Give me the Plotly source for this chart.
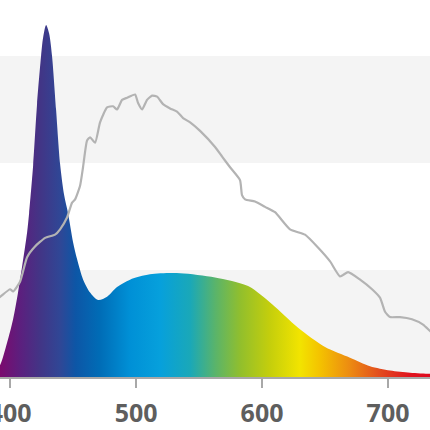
import plotly.graph_objects as go

# Spectrum (emission) data: wavelength (nm) vs relative intensity
spec_wl = [386, 392, 397.6, 402.4, 406.3, 409.5, 413.5, 415.1, 418.3, 421.4, 424.6, 426.2, 428.6,
           431.0, 433.3, 436.5, 439.7, 442.9, 446.0, 450.0, 453.2, 458.0, 463.5, 469.8, 477.0,
           484.9, 495.2, 511.0, 535.0, 562.7, 588.9, 608.0, 628.6, 650.0, 669.8, 685.7, 701.6,
           717.5, 733.3, 740]
spec_val = [0.02, 0.11, 0.32, 0.54, 0.79, 1.03, 1.35, 1.53, 1.98, 2.55, 3.00, 3.17, 3.29,
            3.21, 3.00, 2.50, 1.99, 1.70, 1.53, 1.26, 1.10, 0.91, 0.79, 0.72, 0.75,
            0.84, 0.91, 0.96, 0.97, 0.93, 0.85, 0.68, 0.46, 0.28, 0.18, 0.10, 0.06,
            0.04, 0.03, 0.03]

# Reference (gray) curve
ref_wl = [388, 392.1, 400.0, 402.4, 407.9, 413.5, 419.8, 427.8, 435.7, 439.7, 445.2, 449.2, 451.6,
          455.6, 457.9, 461.1, 463.5, 467.5, 471.4, 477.0, 481.7, 484.9, 488.9, 492.9, 499.2,
          501.6, 504.8, 508.7, 512.7, 516.7, 521.4, 527.0, 532.5, 537.3, 542.9, 550.8, 562.7,
          568.3, 574.6, 582.5, 584.1, 586.5, 594.4, 602.4, 610.3, 622.2, 634.1, 644.4, 654.0,
          661.9, 668.3, 677.8, 687.3, 693.7, 697.6, 701.6, 709.5, 719.0, 727.8, 733.3, 738]
ref_val = [0.72, 0.75, 0.82, 0.80, 0.89, 1.12, 1.22, 1.30, 1.33, 1.38, 1.49, 1.63, 1.66,
           1.79, 1.96, 2.21, 2.24, 2.19, 2.38, 2.52, 2.53, 2.50, 2.59, 2.61, 2.64,
           2.56, 2.50, 2.59, 2.63, 2.62, 2.55, 2.51, 2.48, 2.42, 2.38, 2.30, 2.15,
           2.06, 1.96, 1.84, 1.70, 1.66, 1.64, 1.59, 1.54, 1.38, 1.33, 1.21, 1.08,
           0.94, 0.98, 0.91, 0.82, 0.74, 0.61, 0.56, 0.56, 0.54, 0.49, 0.43, 0.38]

tick_vals = [400, 500, 600, 700]
tick_text = ["400", "500", "600", "700"]

# spectral colour stops (wavelength, colour)
grad_wl = [392, 408, 424, 440, 452, 471, 495, 519, 543, 563, 583, 606, 630, 646, 670, 694, 717, 733]
grad_col = ["#7b0a6e", "#5c1f7e", "#423586", "#2f4796", "#0d56a6", "#006cb6", "#0090d6", "#06a0dc",
            "#1aa8b8", "#5ab46a", "#92bf2c", "#c4ce0c", "#f2e400", "#f4c200", "#ec8a12", "#e24a1e",
            "#e0141e", "#de0a1e"]

x_min, x_max = 392, 733.3
y_max = 377 / 107

lo, hi = grad_wl[0], grad_wl[-1]
colorscale = [[(w - lo) / (hi - lo), c] for w, c in zip(grad_wl, grad_col)]

fig = go.Figure()

fig.add_trace(go.Scatter(
    x=spec_wl, y=spec_val, mode="lines", line=dict(width=0, shape="spline", smoothing=0.8),
    fill="tozeroy",
    fillgradient=dict(type="horizontal", colorscale=colorscale, start=lo, stop=hi),
    hoverinfo="skip", showlegend=False,
))

fig.add_trace(go.Scatter(
    x=ref_wl, y=ref_val, mode="lines",
    line=dict(color="#b3b3b3", width=2.2, shape="spline", smoothing=0.5),
    hoverinfo="skip", showlegend=False,
))

shapes = []
for b0, b1 in [(0, 1), (2, 3)]:
    shapes.append(dict(type="rect", xref="paper", yref="y", x0=0, x1=1, y0=b0, y1=b1,
                       fillcolor="#f4f4f4", line=dict(width=0), layer="below"))

fig.update_layout(
    width=430, height=430,
    margin=dict(l=0, r=0, t=0, b=53, pad=0, autoexpand=False),
    paper_bgcolor="white", plot_bgcolor="white",
    shapes=shapes,
    xaxis=dict(range=[x_min, x_max], tickvals=tick_vals, ticktext=tick_text, automargin=False,
               showgrid=False, zeroline=False, showline=True, linecolor="#a8a8a8", linewidth=2,
               ticks="outside", ticklen=9, tickwidth=2, tickcolor="#a8a8a8",
               tickfont=dict(family="Open Sans", size=25, color="#5e5e5e", weight="bold"),
               ticklabelstandoff=4, ticklabeloverflow="allow"),
    yaxis=dict(range=[0, y_max], visible=False, showgrid=False, zeroline=False),
)

fig.write_html("out.html")
